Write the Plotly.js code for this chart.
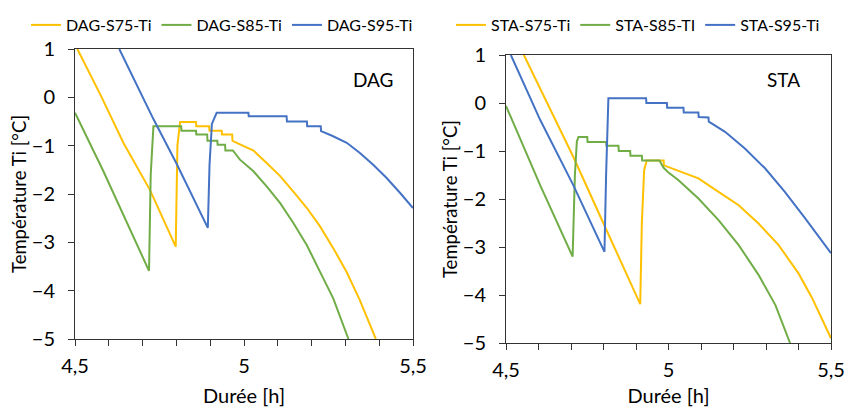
<!DOCTYPE html>
<html>
<head>
<meta charset="utf-8">
<script src="https://cdn.plot.ly/plotly-3.0.1.min.js"></script>
<style>html,body{margin:0;padding:0;background:#fff;}#chart{width:845px;height:407px;}</style>
</head>
<body>
<div id="chart"></div>
<script>
// ---- DAG panel ----
const dagS75_t = [4.507, 4.579, 4.643, 4.722, 4.798, 4.803, 4.811, 4.858, 4.859, 4.897, 4.898, 4.934, 4.935, 4.965, 4.966, 4.993, 5.028, 5.067, 5.107, 5.146, 5.186, 5.225, 5.264, 5.304, 5.343, 5.39];
const dagS75_T = [1, 0, -0.94, -1.92, -3.09, -1.0, -0.51, -0.51, -0.6, -0.6, -0.69, -0.69, -0.77, -0.77, -0.9, -0.98, -1.10, -1.36, -1.63, -1.95, -2.29, -2.67, -3.12, -3.62, -4.2, -5];

const dagS85_t = [4.5, 4.584, 4.719, 4.724, 4.732, 4.814, 4.815, 4.858, 4.859, 4.891, 4.892, 4.921, 4.922, 4.944, 4.945, 4.967, 4.988, 5.028, 5.067, 5.107, 5.146, 5.186, 5.225, 5.264, 5.309];
const dagS85_T = [-0.32, -1.53, -3.59, -1.6, -0.6, -0.6, -0.69, -0.69, -0.77, -0.77, -0.9, -0.9, -0.98, -0.98, -1.1, -1.1, -1.29, -1.53, -1.84, -2.19, -2.6, -3.06, -3.61, -4.16, -5];

const dagS95_t = [4.631, 4.732, 4.801, 4.893, 4.898, 4.905, 4.919, 5.013, 5.014, 5.126, 5.127, 5.186, 5.187, 5.227, 5.228, 5.259, 5.304, 5.343, 5.383, 5.422, 5.462, 5.5];
const dagS95_T = [1, -0.45, -1.38, -2.70, -1.4, -0.55, -0.32, -0.32, -0.39, -0.39, -0.5, -0.5, -0.6, -0.6, -0.7, -0.79, -0.94, -1.15, -1.4, -1.67, -1.98, -2.29];

// ---- STA panel ----
const staS75_t = [4.555, 4.707, 4.80, 4.913, 4.918, 4.925, 4.933, 4.985, 4.986, 5.026, 5.092, 5.154, 5.216, 5.277, 5.339, 5.4, 5.441, 5.5];
const staS75_T = [1, -1.12, -2.51, -4.19, -2.5, -1.4, -1.2, -1.2, -1.3, -1.4, -1.57, -1.85, -2.13, -2.51, -2.96, -3.55, -4.05, -4.9];

const staS85_t = [4.5, 4.605, 4.705, 4.712, 4.718, 4.723, 4.75, 4.751, 4.808, 4.809, 4.846, 4.847, 4.882, 4.883, 4.918, 4.919, 4.972, 4.985, 5.0, 5.031, 5.092, 5.154, 5.216, 5.277, 5.329, 5.374];
const staS85_T = [-0.06, -1.71, -3.2, -1.5, -0.8, -0.71, -0.71, -0.81, -0.81, -0.89, -0.89, -1.0, -1.0, -1.1, -1.1, -1.2, -1.2, -1.35, -1.45, -1.61, -1.99, -2.44, -2.96, -3.58, -4.21, -5];

const staS95_t = [4.515, 4.605, 4.707, 4.803, 4.808, 4.812, 4.815, 4.931, 4.932, 4.995, 4.996, 5.046, 5.047, 5.092, 5.093, 5.123, 5.124, 5.174, 5.235, 5.297, 5.358, 5.42, 5.5];
const staS95_T = [1, -0.35, -1.71, -3.1, -1.5, -0.3, 0.1, 0.1, 0.0, 0.0, -0.1, -0.1, -0.2, -0.2, -0.29, -0.3, -0.39, -0.6, -0.95, -1.36, -1.85, -2.40, -3.13];

const namesDAG = ['DAG-S75-Ti', 'DAG-S85-Ti', 'DAG-S95-Ti'];
const namesSTA = ['STA-S75-Ti', 'STA-S85-TI', 'STA-S95-Ti'];
const colors = ['#FFC000', '#70AD47', '#4472C4'];
const xTickVals = [4.5, 5, 5.5];
const xTickText = ['4,5', '5', '5,5'];

const FONT = 'Lato, "Open Sans", sans-serif';

function tr(x, y, name, color, xa, ya, leg) {
  return {x: x, y: y, name: name, type: 'scatter', mode: 'lines',
          line: {color: color, width: 2}, xaxis: xa, yaxis: ya, legend: leg};
}

const data = [
  tr(dagS75_t, dagS75_T, namesDAG[0], colors[0], 'x', 'y', 'legend'),
  tr(dagS85_t, dagS85_T, namesDAG[1], colors[1], 'x', 'y', 'legend'),
  tr(dagS95_t, dagS95_T, namesDAG[2], colors[2], 'x', 'y', 'legend'),
  tr(staS75_t, staS75_T, namesSTA[0], colors[0], 'x2', 'y2', 'legend2'),
  tr(staS85_t, staS85_T, namesSTA[1], colors[1], 'x2', 'y2', 'legend2'),
  tr(staS95_t, staS95_T, namesSTA[2], colors[2], 'x2', 'y2', 'legend2')
];

function xax(domain, anchor) {
  return {domain: domain, anchor: anchor, range: [4.5, 5.5], tickvals: xTickVals,
          ticktext: xTickText, ticks: 'outside', ticklen: 6, tickcolor: '#333',
          ticklabelstandoff: 3,
          minor: {dtick: 0.1, tick0: 4.5, ticks: 'outside', ticklen: 6, tickcolor: '#333'},
          showline: true, linecolor: '#333', linewidth: 1, mirror: true, showgrid: false,
          zeroline: false, automargin: false,
          tickfont: {family: FONT, size: 20, color: '#000'},
          title: {text: 'Durée [h]', font: {family: FONT, size: 20, color: '#000'}, standoff: 12}};
}
function yax(domain, anchor, labelGap) {
  return {domain: domain, anchor: anchor, range: [-5, 1], dtick: 1, ticks: 'outside', ticklen: 6,
          ticklabelstandoff: labelGap,
          tickcolor: '#333', showline: true, linecolor: '#333', linewidth: 1, mirror: true,
          showgrid: false, zeroline: false, automargin: false,
          tickfont: {family: FONT, size: 20, color: '#000'},
          title: {text: 'Température Ti [°C]', font: {family: FONT, size: 18.5, color: '#000'}, standoff: 0}};
}

const layout = {
  width: 845, height: 407,
  margin: {l: 0, r: 0, t: 0, b: 0},
  paper_bgcolor: '#fff', plot_bgcolor: '#fff',
  font: {family: FONT, color: '#000'},
  xaxis: xax([75/845, 413/845], 'y'),
  yaxis: yax([1 - 339/407, 1 - 49/407], 'x', 9),
  xaxis2: xax([506/845, 831/845], 'y2'),
  yaxis2: yax([1 - 343/407, 1 - 55/407], 'x2', 9),
  legend: {orientation: 'h', x: 26/845, xanchor: 'left', y: 1 - 8/407, yanchor: 'top',
           font: {family: FONT, size: 16, color: '#000'}, itemwidth: 30, tracegroupgap: 0},
  legend2: {orientation: 'h', x: 451/845, xanchor: 'left', y: 1 - 8/407, yanchor: 'top',
           font: {family: FONT, size: 16, color: '#000'}, itemwidth: 30, tracegroupgap: 0},
  annotations: [
    {text: 'DAG', xref: 'x', yref: 'y', x: 5.382, y: 0.36, showarrow: false,
     font: {family: FONT, size: 19, color: '#000'}},
    {text: 'STA', xref: 'x2', yref: 'y2', x: 5.353, y: 0.48, showarrow: false,
     font: {family: FONT, size: 19, color: '#000'}}
  ]
};

Plotly.newPlot('chart', data, layout, {displayModeBar: false, staticPlot: true});
</script>
</body>
</html>
